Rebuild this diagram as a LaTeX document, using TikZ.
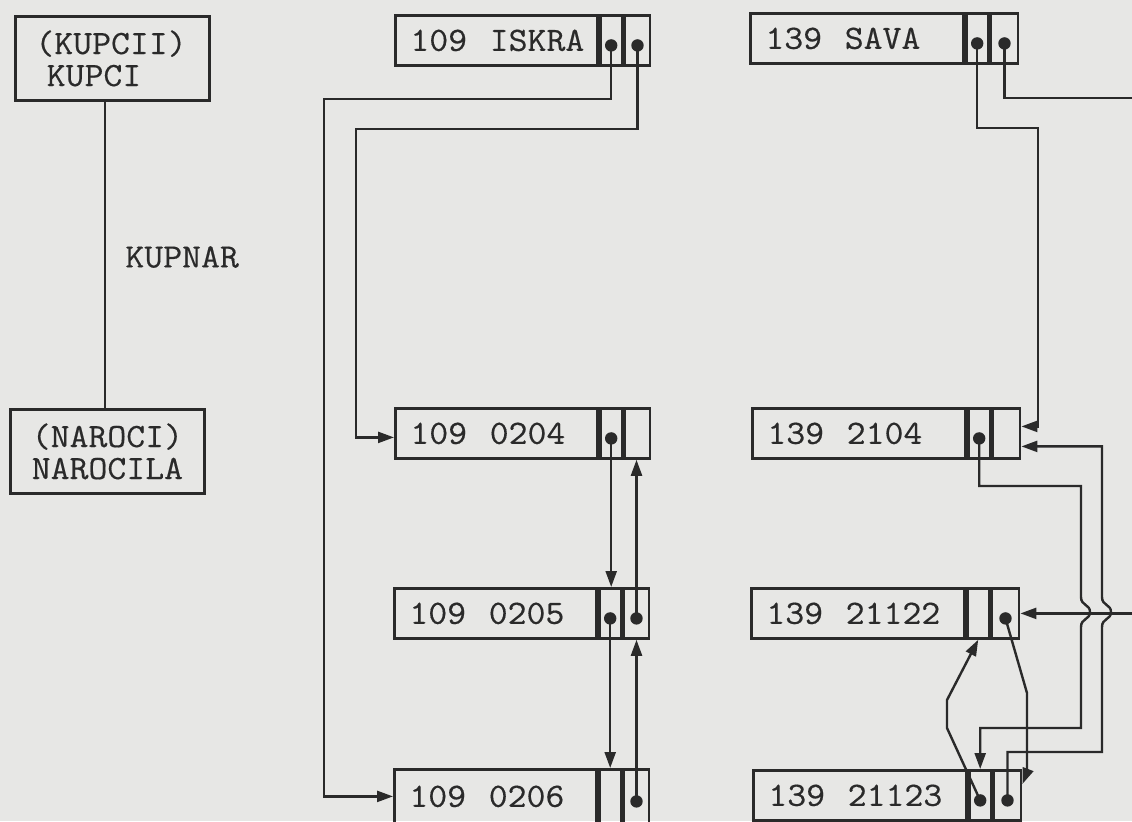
\documentclass[tikz,border=0pt]{standalone}
\usepackage{fontspec}
\newfontfamily\twfont{Latin Modern Mono}[FakeBold=0.4,FakeStretch=1.08]
\usetikzlibrary{arrows.meta,calc}
\definecolor{ink}{HTML}{2A2A2A}
\definecolor{paper}{HTML}{E7E7E5}
\newcommand\recbox[6]{%
  \node[recmain, text width=#3, minimum height=#4] (#1) at #2 {#6};
  \node[cell, minimum width=11pt, minimum height=#4] (#1c1) at (#1.north east) {};
  \node[cell, minimum width=#5, minimum height=#4] (#1c2) at (#1c1.north east) {};
  \coordinate (#1d1) at ([yshift=-2.5pt]#1c1.center);
  \coordinate (#1d2) at ([yshift=-2.5pt]#1c2.center);
}
\begin{document}
\begin{tikzpicture}[x=0.5pt,y=-0.5pt,
  tt/.style={font=\twfont\fontsize{17pt}{16pt}\selectfont, text=ink},
  ent/.style={tt, draw=ink, line width=1.4pt, anchor=north west, inner xsep=10pt, text width=77pt, minimum height=42pt},
  recmain/.style={tt, draw=ink, line width=1.4pt, anchor=north west, inner xsep=7.5pt, align=left},
  cell/.style={draw=ink, line width=1.4pt, anchor=north west, inner sep=0pt},
  conn/.style={draw=ink, line width=1.2pt},
  arr/.style={conn, -{Triangle[length=8pt,width=5.5pt]}},
  dot/.style={fill=ink}]
\useasboundingbox (0,0) rectangle (1132,821);
\fill[paper] (0,0) rectangle (1132,821);
\clip (0,0) rectangle (1132,821);

% entity boxes
\node[ent, align=left] (kupci) at (14,15) {(KUPCII)\\~KUPCI};
\node[ent, align=center] (narocila) at (9,408) {(NAROCI)\\NAROCILA};
\coordinate (relx) at (105,0);
\draw[conn] (kupci.south -| relx) -- (narocila.north -| relx);
\node[tt, anchor=west, inner sep=0pt] (kupnar) at (125,257) {KUPNAR};

% records, left column
\recbox{iskra}{(394,14)}{86pt}{25pt}{12.5pt}{109~~ISKRA}
\recbox{ra}{(394,407)}{86pt}{25pt}{12.5pt}{109~~0204}
\recbox{rb}{(393,587)}{86pt}{25pt}{12.5pt}{109~~0205}
\recbox{rc}{(393,768)}{86pt}{27pt}{12.5pt}{109~~0206}
% records, right column
\recbox{sava}{(749,12)}{91.5pt}{25pt}{13.5pt}{139~~SAVA}
\recbox{rd}{(751,407)}{91.5pt}{25pt}{13.5pt}{139~~2104}
\recbox{re}{(750,587)}{91.5pt}{25pt}{13.5pt}{139~~21122}
\recbox{rf}{(752,769)}{91.5pt}{25pt}{13.5pt}{139~~21123}

% bend points
\coordinate (b1) at (324,99);
\coordinate (b2) at (356,129);
\coordinate (s1) at (1038,128);
\coordinate (s2) at (1160,98);
\coordinate (p1) at (1081,486);
\coordinate (p2) at (1081,728);
\coordinate (q1) at (1102,752);

% connectors, left column
\draw[arr] (iskrad1) |- (b1) |- (rc.west);
\draw[arr] (iskrad2) |- (b2) |- ([yshift=-2pt]ra.west);
\draw[arr] (rad1) -- (rad1 |- rb.north);
\draw[arr] (rbd2) -- (rbd2 |- ra.south);
\draw[arr] (rbd1) -- (rbd1 |- rc.north);
\draw[arr] (rcd2) -- (rcd2 |- rb.south);

% connectors, right column
\draw[arr] (savad1) |- (s1) |- ([yshift=3.5pt]rdc2.east);
\draw[arr] (savad2) |- (s2) |- (rec2.east);
\draw[arr] (rdd1) |- (p1) -- (1081,597)
  .. controls (1081,606) and (1090,604) .. (1090,612)
  .. controls (1090,620) and (1081,618) .. (1081,627)
  -- (p2) -| (rfc1.north);
\draw[arr] (rfd2) |- (q1) -- (1102,627)
  .. controls (1102,618) and (1111,620) .. (1111,612)
  .. controls (1111,604) and (1102,606) .. (1102,597)
  |- ([yshift=-6.5pt]rdc2.east);
\draw[arr] (red2) -- (1027,693) -- (1027,772) -- ([yshift=-7.5pt]rfc2.north east);
\draw[arr] (rfd1) -- (947,728) -- (947,700) -- (rec1.south);

% dots
\foreach \d in {iskrad1,iskrad2,rad1,rbd1,rbd2,rcd2,savad1,savad2,rdd1,red2,rfd1,rfd2}
  \fill[dot] (\d) circle[radius=3.1pt];
\end{tikzpicture}
\end{document}
